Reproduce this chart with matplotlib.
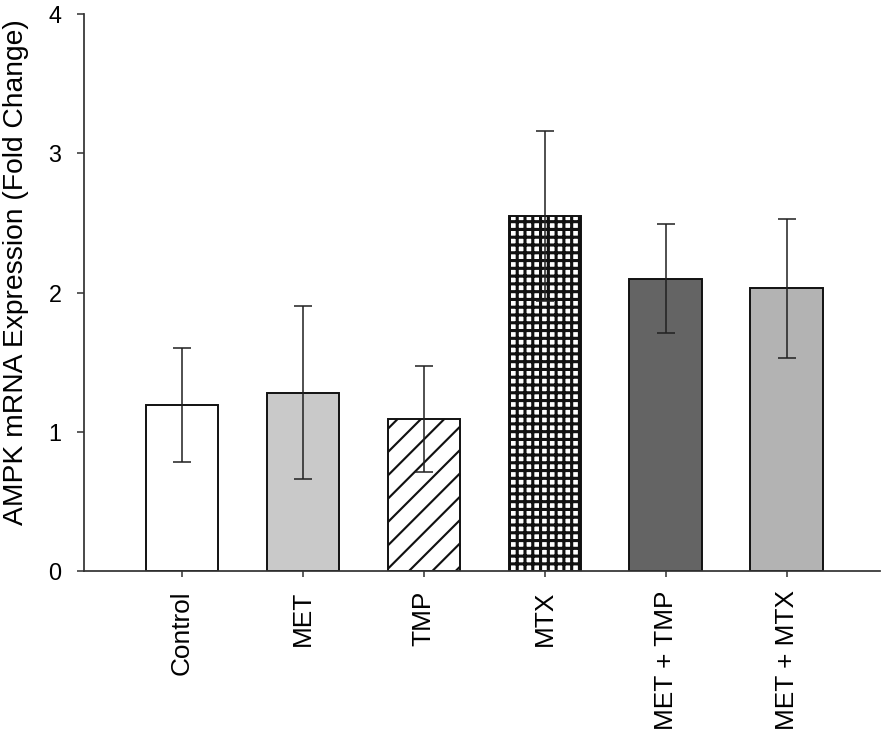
import matplotlib
matplotlib.use("Agg")
import matplotlib.pyplot as plt

# AMPK mRNA fold change per treatment group
groups = ["Control", "MET", "TMP", "MTX", "MET + TMP", "MET + MTX"]
means = [1.19, 1.28, 1.09, 2.55, 2.10, 2.03]
errors = [0.41, 0.62, 0.38, 0.61, 0.39, 0.50]

fills = ["#ffffff", "#c9c9c9", "#ffffff", "#ffffff", "#646464", "#b3b3b3"]
hatches = [None, None, "//", "+++", None, None]
hatch_lw = [None, None, 1.1, 1.6, None, None]

plt.rcParams["font.family"] = ["Liberation Sans", "DejaVu Sans"]
plt.rcParams["hatch.linewidth"] = 1.1
plt.rcParams["hatch.color"] = "#111111"

fig = plt.figure(figsize=(886 / 140, 735 / 140), dpi=140)
ax = fig.add_axes([0.0948, 0.2231, 0.8982, 0.7578])

x = list(range(len(groups)))
bars = ax.bar(x, means, width=0.6, color=fills, edgecolor="#111111",
              linewidth=1.0, zorder=2)
for b, h, lw in zip(bars, hatches, hatch_lw):
    if h:
        b.set_hatch(h)
        if hasattr(b, "set_hatch_linewidth"):
            b.set_hatch_linewidth(lw)

ax.errorbar(x, means, yerr=errors, fmt="none", ecolor="#222222",
            elinewidth=0.8, capsize=4.6, capthick=0.8, zorder=3)

ax.set_xlim(-0.81, 5.77)
ax.set_ylim(0, 4)
ax.set_yticks([0, 1, 2, 3, 4])
ax.set_xticks(x)
ax.set_xticklabels(groups, rotation=90, fontsize=13.5)
ax.tick_params(axis="y", labelsize=12, length=3.6, width=0.8,
               color="#333333", pad=8)
ax.tick_params(axis="x", length=3, width=0.8, color="#333333", pad=7)
ax.set_ylabel("AMPK mRNA Expression (Fold Change)", fontsize=14.5)
ax.yaxis.set_label_coords(-0.069, 0.537)

for side in ["top", "right"]:
    ax.spines[side].set_visible(False)
for side in ["left", "bottom"]:
    ax.spines[side].set_linewidth(0.9)
    ax.spines[side].set_color("#333333")

fig.savefig("out.png", dpi=140)
